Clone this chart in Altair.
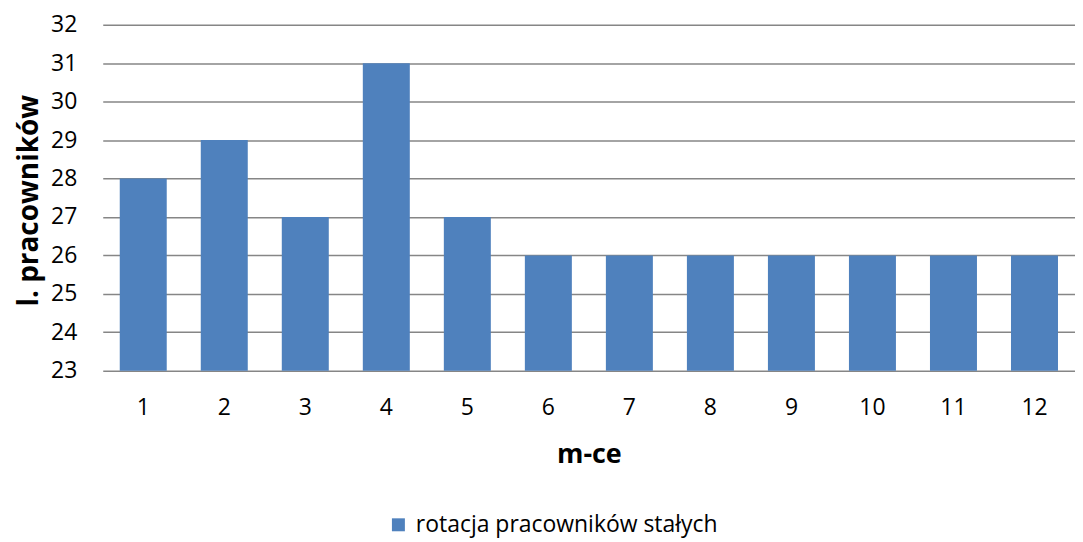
import altair as alt
import pandas as pd

months = [str(i) for i in range(1, 13)]
values = [28, 29, 27, 31, 27, 26, 26, 26, 26, 26, 26, 26]
series = "rotacja pracowników stałych"

df = pd.DataFrame({"m": months, "v": values, "base": [23] * len(values), "s": [series] * len(values)})

FONT = "Open Sans"

chart = alt.Chart(df).mark_bar(color="#4F81BD").encode(
    x=alt.X("m:N", sort=months,
            scale=alt.Scale(paddingInner=0.42, paddingOuter=0.21),
            axis=alt.Axis(title="m-ce", labelAngle=0, labelFontSize=23, labelPadding=26,
                          ticks=False, domain=False, titleFontSize=27, titleFontWeight="bold",
                          titlePadding=22, labelColor="#000", titleColor="#000",
                          labelFont=FONT, titleFont=FONT)),
    y=alt.Y("v:Q", scale=alt.Scale(domain=[23, 32], zero=False, nice=False),
            axis=alt.Axis(title="l. pracowników", values=list(range(23, 33)), labelFontSize=23,
                          labelPadding=26, ticks=False, domain=False, grid=True,
                          gridColor="#868686", gridWidth=1.5, titleFontSize=28,
                          titleFontWeight="bold", titleX=-73, titleY=176, titleBaseline="middle",
                          labelColor="#000", titleColor="#000", labelFont=FONT, titleFont=FONT)),
    y2="base:Q",
    fill=alt.Fill("s:N", scale=alt.Scale(range=["#4F81BD"]),
                  legend=alt.Legend(title=None, orient="none", legendX=285, legendY=490,
                                    symbolType="square", symbolSize=169, labelFontSize=23,
                                    labelLimit=600, labelOffset=6,
                                    labelFont=FONT, labelColor="#000", symbolStrokeWidth=0)),
).properties(
    width=975, height=347,
    autosize=alt.AutoSizeParams(type="none"),
    padding={"left": 95, "top": 16, "right": 0, "bottom": 171},
).configure_view(stroke=None)

chart.save("out.html", embed_options={"renderer": "svg", "actions": False})
